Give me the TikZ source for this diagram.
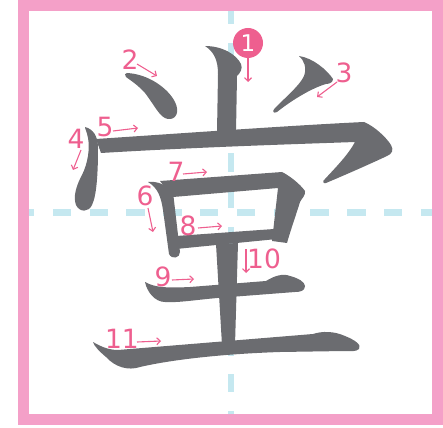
\documentclass[tikz,border=0pt]{standalone}
\usepackage{fontspec}
\setmainfont{DejaVu Sans}
\usetikzlibrary{arrows.meta}
\definecolor{FramePink}{RGB}{244,160,200}
\definecolor{NumPink}{RGB}{238,95,143}
\definecolor{InkGray}{RGB}{107,108,112}
\definecolor{GuideBlue}{RGB}{197,232,240}

\begin{document}
\begin{tikzpicture}[
    x=1pt, y=-1pt,
    kanji/.style={fill=InkGray},
    guide/.style={draw=GuideBlue, line width=6.5pt, dash pattern=on 18.4pt off 18.4pt},
    num/.style={text=NumPink, inner sep=0pt, font=\fontsize{26.5}{26.5}\selectfont},
    badge/.style={circle, fill=NumPink, text=white, minimum size=30pt, inner sep=0pt, font=\fontsize{23}{23}\selectfont},
    numarrow/.style={-{Straight Barb[length=3.5pt,width=7pt]}, line width=1.1pt, NumPink}
]
\useasboundingbox (0,0) rectangle (443,427);
% guide lines
\draw[guide, dash phase=13pt] (29,212.5) -- (432,212.5);
\draw[guide, dash phase=5pt] (231,11) -- (231,414);
% stroke 1
\fill[kanji] (205,46) .. controls (222,46) and (236,54) .. (241,64)
    .. controls (243,69) and (240,73) .. (237,76) -- (236,132) -- (217,132) -- (218,74)
    .. controls (218,60) and (214,52) .. (205,46) -- cycle;
% stroke 2
\fill[kanji] (127,73) .. controls (148,74) and (168,88) .. (175,102)
    .. controls (180,112) and (176,120) .. (168,119) .. controls (160,118) and (155,106) .. (145,93)
    .. controls (138,85) and (130,80) .. (126,77) .. controls (124,75) and (125,73) .. (127,73) -- cycle;
% stroke 3
\fill[kanji] (299,56) .. controls (313,58) and (327,70) .. (333,79)
    .. controls (333,82) and (330,84) .. (326,84) .. controls (312,88) and (292,100) .. (277,112)
    .. controls (273,114) and (272,111) .. (275,108) .. controls (287,96) and (300,85) .. (304,76)
    .. controls (307,68) and (304,60) .. (299,56) -- cycle;
% stroke 4
\fill[kanji] (85,127) .. controls (93,129) and (98,136) .. (98,148)
    .. controls (98,170) and (97,195) .. (92,205) .. controls (89,212) and (80,213) .. (76,205)
    .. controls (73,197) and (76,186) .. (82,175) .. controls (88,163) and (90,148) .. (88,138)
    .. controls (87,132) and (85,129) .. (85,127) -- cycle;
% stroke 5
\fill[kanji] (96,139) .. controls (200,132) and (300,125) .. (364,122)
    .. controls (374,126) and (386,137) .. (391,145) .. controls (394,150) and (392,154) .. (387,156)
    .. controls (370,164) and (345,175) .. (326,183) .. controls (323,184) and (322,181) .. (325,179)
    .. controls (336,167) and (348,155) .. (355,142) .. controls (300,144) and (200,147) .. (101,153) -- cycle;
% stroke 6
\fill[kanji] (148,182) .. controls (156,181) and (166,184) .. (173,192) -- (180,252)
    .. controls (180,258) and (172,260) .. (169,254) -- (163,210)
    .. controls (161,197) and (158,188) .. (148,182) -- cycle;
% stroke 7
\fill[kanji] (160,181) -- (282,172) .. controls (290,176) and (300,184) .. (305,191)
    .. controls (306,195) and (302,198) .. (300,202) .. controls (296,215) and (290,232) .. (287,243)
    -- (272,241) -- (278,188) -- (173,197) -- cycle;
% stroke 8
\fill[kanji] (176,236) -- (274,229) -- (287,238) -- (176,249) -- cycle;
% stroke 9
\fill[kanji] (145,282) .. controls (155,288) and (170,288) .. (190,287) -- (266,281)
    .. controls (274,276) and (283,273) .. (290,276) .. controls (298,278) and (305,282) .. (305,286)
    .. controls (305,291) and (300,292) .. (295,292) -- (230,297)
    .. controls (200,299) and (180,303) .. (165,302) .. controls (155,302) and (147,292) .. (145,282) -- cycle;
% stroke 10
\fill[kanji] (216,244) -- (238,243) -- (235,345) -- (222,345) -- cycle;
% stroke 11
\fill[kanji] (93,342) .. controls (100,346) and (108,350) .. (118,350) -- (313,334)
    .. controls (322,331) and (334,331) .. (345,336) .. controls (355,340) and (362,345) .. (359,349)
    .. controls (356,352) and (350,351) .. (345,351) -- (280,352)
    .. controls (220,354) and (170,360) .. (140,367) .. controls (128,371) and (115,367) .. (106,357)
    .. controls (100,352) and (94,346) .. (93,342) -- cycle;
% frame
\draw[line width=11pt, FramePink] (23.5,5.5) rectangle (437.5,419.5);
% numbers
\node[badge] (n1) at (248,43) {1};
\coordinate (b1) at (248,82);
\draw[numarrow] (n1.south) -- (b1);
\node[num] (n2) at (130,60) {2};
\coordinate (a2) at (137,64); \coordinate (b2) at (157,76);
\draw[numarrow] (a2) -- (b2);
\node[num] (n3) at (344,73) {3};
\coordinate (a3) at (337,82); \coordinate (b3) at (317,97);
\draw[numarrow] (a3) -- (b3);
\node[num] (n4) at (76,139) {4};
\coordinate (a4) at (81,150); \coordinate (b4) at (73,170);
\draw[numarrow] (a4) -- (b4);
\node[num] (n5) at (105,127) {5};
\coordinate (a5) at (113,131); \coordinate (b5) at (138,128);
\draw[numarrow] (a5) -- (b5);
\node[num] (n6) at (145,196) {6};
\coordinate (a6) at (148,208); \coordinate (b6) at (153,232);
\draw[numarrow] (a6) -- (b6);
\node[num] (n7) at (176,172) {7};
\coordinate (a7) at (183,174); \coordinate (b7) at (207,172);
\draw[numarrow] (a7) -- (b7);
\node[num] (n8) at (188,226) {8};
\coordinate (a8) at (198,228); \coordinate (b8) at (222,226);
\draw[numarrow] (a8) -- (b8);
\node[num] (n9) at (163,277) {9};
\coordinate (a9) at (172,280); \coordinate (b9) at (194,279);
\draw[numarrow] (a9) -- (b9);
\node[num] (n10) at (264,259) {10};
\coordinate (a10) at (246,249); \coordinate (b10) at (246,273);
\draw[numarrow] (a10) -- (b10);
\node[num] (n11) at (122,339) {11};
\coordinate (a11) at (137,342); \coordinate (b11) at (161,341);
\draw[numarrow] (a11) -- (b11);
\end{tikzpicture}
\end{document}
